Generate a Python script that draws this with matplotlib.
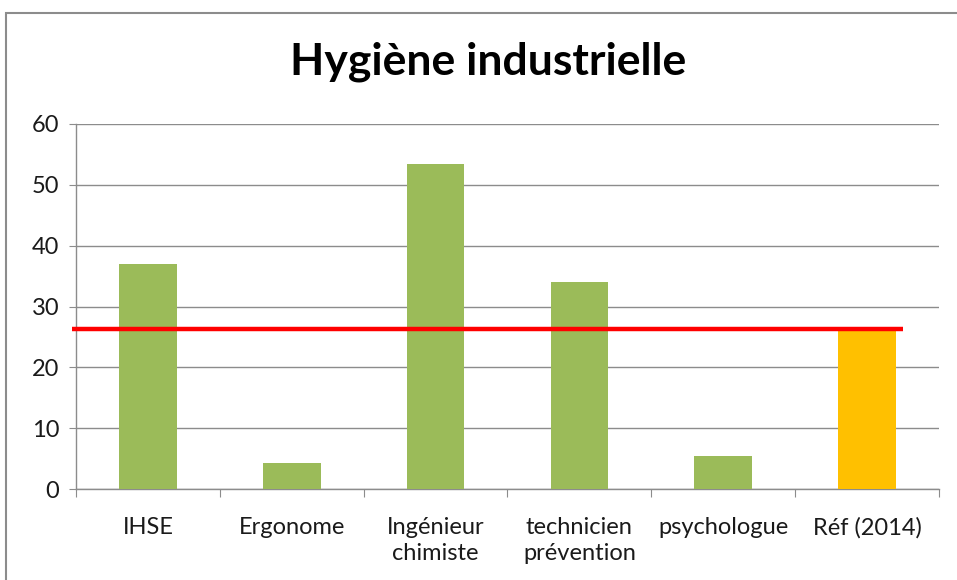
import matplotlib
matplotlib.use("Agg")
import matplotlib.pyplot as plt
from matplotlib.patches import Rectangle

categories = ["IHSE", "Ergonome", "Ingénieur\nchimiste", "technicien\nprévention", "psychologue", "Réf (2014)"]
values = [37.0, 4.3, 53.4, 34.0, 5.4, 26.4]
colors = ["#9BBB59", "#9BBB59", "#9BBB59", "#9BBB59", "#9BBB59", "#FFC000"]
ref_value = 26.3
title = "Hygiène industrielle"
yticks = [0, 10, 20, 30, 40, 50, 60]

plt.rcParams['font.family'] = ['Lato', 'DejaVu Sans']

W, H = 957, 580
fig = plt.figure(figsize=(W / 100, H / 100), dpi=100)
fig.patch.set_facecolor("white")

# outer chart border
fig.patches.append(Rectangle((5.5 / W, -0.1), 1.2, 1 - 12.5 / H + 0.1,
                             transform=fig.transFigure, fill=False,
                             edgecolor="#8c8c8c", linewidth=1.5))

ax = fig.add_axes([76 / W, 1 - 489 / H, (939 - 76) / W, (489 - 124) / H])
x = list(range(len(categories)))
ax.bar(x, values, width=0.4, color=colors, zorder=3)
ax.set_xlim(-0.5, len(categories) - 0.5)
ax.set_ylim(0, 60)
ax.set_yticks(yticks)
ax.set_yticklabels([str(t) for t in yticks], fontsize=17, color="#1a1a1a")
ax.yaxis.grid(True, color="#8c8c8c", linewidth=1, zorder=0)
ax.set_axisbelow(True)

# x ticks at category boundaries, labels at centers
ax.set_xticks([i - 0.5 for i in range(len(categories) + 1)])
ax.set_xticklabels([])
ax.set_xticks(x, minor=True)
ax.set_xticklabels(categories, minor=True, fontsize=17, color="#1a1a1a", linespacing=1.3)
ax.tick_params(axis="x", which="major", length=6, color="#8c8c8c", direction="out")
ax.tick_params(axis="x", which="minor", length=0, pad=20)
ax.tick_params(axis="y", length=5, color="#8c8c8c", pad=7)

for s in ["top", "right"]:
    ax.spines[s].set_visible(False)
for s in ["left", "bottom"]:
    ax.spines[s].set_color("#8c8c8c")
    ax.spines[s].set_linewidth(1)

ax.plot([-0.53, 5.25], [ref_value, ref_value], color="#FF0000", linewidth=3.2,
        zorder=4, clip_on=False, solid_capstyle="butt")

fig.text(488 / W, 1 - 62 / H, title, ha="center", va="center",
         fontsize=32, fontweight="bold", color="black")

fig.savefig("out.png", dpi=100)
